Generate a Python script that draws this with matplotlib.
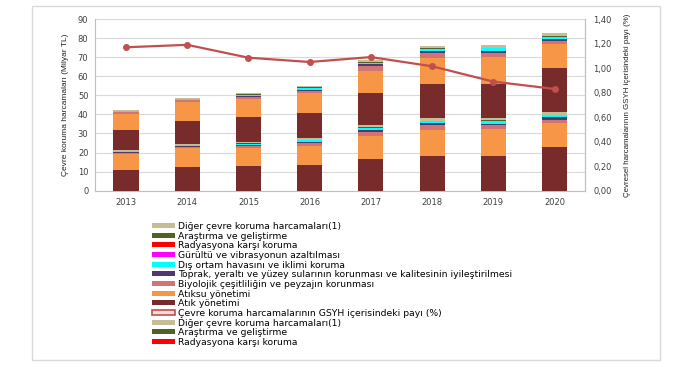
import matplotlib
matplotlib.use("Agg")
import matplotlib.pyplot as plt
from matplotlib.patches import Patch, Rectangle
import numpy as np

years = ["2013", "2014", "2015", "2016", "2017", "2018", "2019", "2020"]

atik = [10.8, 12.3, 12.8, 13.3, 16.8, 18.2, 18.0, 23.1]
atiksu = [8.4, 10.2, 9.7, 10.3, 12.0, 13.6, 14.2, 12.5]
biyolojik = [0.7, 0.6, 1.2, 1.3, 2.2, 2.4, 2.0, 1.6]
toprak = [0.4, 0.4, 0.5, 0.7, 1.0, 1.1, 1.0, 1.3]
dis_ortam = [0.4, 0.4, 0.5, 0.8, 0.8, 1.0, 1.3, 1.0]
gurultu = [0.03, 0.03, 0.05, 0.05, 0.05, 0.08, 0.08, 0.08]
radyasyon = [0.02, 0.02, 0.03, 0.03, 0.03, 0.05, 0.05, 0.05]
arge = [0.1, 0.1, 0.15, 0.25, 0.35, 0.3, 0.3, 0.3]
diger = [0.3, 0.2, 0.7, 0.7, 1.0, 1.2, 1.2, 1.3]

gsyh_payi = [1.17, 1.19, 1.085, 1.05, 1.09, 1.015, 0.89, 0.83]

series_names = [
    "Atık yönetimi",
    "Atıksu yönetimi",
    "Biyolojik çeşitliliğin ve peyzajın korunması",
    "Toprak, yeraltı ve yüzey sularının korunması ve kalitesinin iyileştirilmesi",
    "Dış ortam havasını ve iklimi koruma",
    "Gürültü ve vibrasyonun azaltılması",
    "Radyasyona karşı koruma",
    "Araştırma ve geliştirme",
    "Diğer çevre koruma harcamaları(1)",
]
series_vals = [atik, atiksu, biyolojik, toprak, dis_ortam, gurultu, radyasyon, arge, diger]
series_colors = ["#772B2B", "#F79646", "#D07575", "#4B3A6B", "#00FFFF",
                 "#FF00FF", "#FF0000", "#4F6228", "#C4BD97"]
line_name = "Çevre koruma harcamalarının GSYH içerisindeki payı (%)"
line_color = "#C0504D"

plt.rcParams['font.family'] = ['DejaVu Sans']

fig = plt.figure(figsize=(6.86, 3.67), dpi=100)
ax = fig.add_axes([0.139, 0.4804, 0.714, 0.4676])

x = np.arange(len(years))
bottom = np.zeros(len(years))
for rep in range(2):
    for vals, col in zip(series_vals, series_colors):
        v = np.array(vals)
        ax.bar(x, v, width=0.41, bottom=bottom, color=col, linewidth=0, zorder=3)
        bottom += v

ax.set_xlim(-0.5, 7.5)
ax.set_ylim(0, 90)
ax.set_yticks(np.arange(0, 91, 10))
ax.set_xticks(x)
ax.set_xticklabels(years)
ax.grid(axis='y', color='#D9D9D9', linewidth=0.8, zorder=0)
ax.tick_params(axis='both', length=0, labelsize=6, colors='#404040', pad=5)
ax.spines['top'].set_visible(False)
for s in ['left', 'bottom', 'right']:
    ax.spines[s].set_color('#BFBFBF')
    ax.spines[s].set_linewidth(0.8)
ax.set_ylabel("Çevre koruma harcamaları (Milyar TL)", fontsize=6,
              family=['Liberation Sans', 'DejaVu Sans'], color='#202020', labelpad=6)

ax2 = ax.twinx()
ax2.plot(x, gsyh_payi, color=line_color, linewidth=1.6, marker='o', markersize=4, zorder=5)
ax2.set_ylim(0, 1.40)
ax2.set_yticks(np.arange(0, 1.41, 0.2))
ax2.set_yticklabels([f"{v:.2f}".replace('.', ',') for v in np.arange(0, 1.41, 0.2)])
ax2.tick_params(axis='y', length=0, labelsize=6, colors='#404040', pad=6)
for s in ['top', 'left', 'bottom']:
    ax2.spines[s].set_visible(False)
ax2.spines['right'].set_color('#BFBFBF')
ax2.spines['right'].set_linewidth(0.8)
ax2.set_ylabel("Çevresel harcamalarının GSYH içerisindeki payı (%)", fontsize=5.7,
               family=['Liberation Sans', 'DejaVu Sans'], color='#202020', labelpad=9)

# legend
handles = []
labels = []
rev = list(zip(series_names, series_colors))[::-1]
for name, col in rev:
    handles.append(Patch(facecolor=col, edgecolor='none'))
    labels.append(name)
handles.append(Patch(facecolor='#F2DCDB', edgecolor=line_color, linewidth=1.2))
labels.append(line_name)
for name, col in rev[:3]:
    handles.append(Patch(facecolor=col, edgecolor='none'))
    labels.append(name)

fig.legend(handles, labels, loc='upper left', bbox_to_anchor=(152 / 686, 1 - 222 / 367),
           frameon=False, fontsize=6.7, handlelength=2.5, handleheight=0.45,
           handletextpad=0.3, labelspacing=0.07, borderpad=0, borderaxespad=0)

fig.patches.append(Rectangle((32 / 686, 1 - 360 / 367), 628 / 686, 354 / 367,
                             transform=fig.transFigure, fill=False,
                             edgecolor='#D9D9D9', linewidth=1))

fig.savefig("out.png", dpi=100)
